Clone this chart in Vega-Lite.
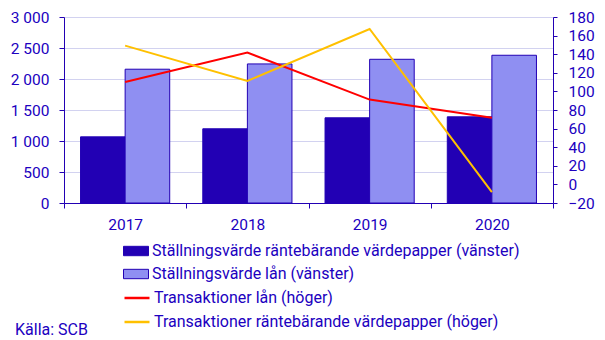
{
  "$schema": "https://vega.github.io/schema/vega-lite/v6.json",
  "autosize": {"type": "none"},
  "width": 489,
  "height": 186,
  "padding": {"left": 64, "top": 17, "right": 52, "bottom": 137},
  "background": "white",
  "config": {
    "font": "Roboto",
    "view": {"stroke": null},
    "axis": {
      "labelFont": "Roboto",
      "labelFontSize": 15.5,
      "labelColor": "#2000c0",
      "domainColor": "#2200b4",
      "tickColor": "#2200b4",
      "domainWidth": 1,
      "tickWidth": 1,
      "title": null
    },
    "legend": {"labelFont": "Roboto", "labelFontSize": 16, "labelColor": "#2000c0", "labelLimit": 600, "padding": 0}
  },
  "title": {
    "text": "Källa: SCB",
    "orient": "bottom",
    "anchor": "start",
    "frame": "group",
    "font": "Roboto",
    "fontSize": 16,
    "fontWeight": "normal",
    "color": "#2000c0",
    "dx": -49,
    "offset": -8
  },
  "layer": [
    {
      "data": {
        "values": [
          {"year": "2017", "series": "Ställningsvärde räntebärande värdepapper (vänster)", "value": 1067},
          {"year": "2017", "series": "Ställningsvärde lån (vänster)", "value": 2158},
          {"year": "2018", "series": "Ställningsvärde räntebärande värdepapper (vänster)", "value": 1197},
          {"year": "2018", "series": "Ställningsvärde lån (vänster)", "value": 2243},
          {"year": "2019", "series": "Ställningsvärde räntebärande värdepapper (vänster)", "value": 1374},
          {"year": "2019", "series": "Ställningsvärde lån (vänster)", "value": 2318},
          {"year": "2020", "series": "Ställningsvärde räntebärande värdepapper (vänster)", "value": 1390},
          {"year": "2020", "series": "Ställningsvärde lån (vänster)", "value": 2383}
        ]
      },
      "mark": {"type": "bar", "stroke": "#2200b4", "strokeWidth": 1},
      "encoding": {
        "x": {
          "field": "year",
          "type": "nominal",
          "scale": {"paddingInner": 0, "paddingOuter": 0},
          "axis": {"labelAngle": 0, "tickBand": "extent", "tickSize": 5, "labelPadding": 9, "domain": true, "grid": false}
        },
        "xOffset": {
          "field": "series",
          "type": "nominal",
          "sort": ["Ställningsvärde räntebärande värdepapper (vänster)", "Ställningsvärde lån (vänster)"],
          "scale": {"paddingInner": 0, "paddingOuter": 0.371}
        },
        "y": {
          "field": "value",
          "type": "quantitative",
          "scale": {"domain": [0, 3000], "nice": false},
          "axis": {
            "orient": "left",
            "values": [0, 500, 1000, 1500, 2000, 2500, 3000],
            "labelExpr": "replace(format(datum.value, ','), ',', ' ')",
            "grid": true,
            "gridColor": "#d2d2f0",
            "tickSize": 5,
            "labelPadding": 10
          }
        },
        "fill": {
          "field": "series",
          "type": "nominal",
          "sort": ["Ställningsvärde räntebärande värdepapper (vänster)", "Ställningsvärde lån (vänster)"],
          "scale": {
            "domain": ["Ställningsvärde räntebärande värdepapper (vänster)", "Ställningsvärde lån (vänster)"],
            "range": ["#2200b4", "#8f8ff2"]
          },
          "legend": {
            "orient": "none",
            "legendX": 59,
            "legendY": 221,
            "title": null,
            "direction": "vertical",
            "symbolType": "M-1,-0.375L1,-0.375L1,0.375L-1,0.375Z",
            "symbolSize": 625,
            "symbolStrokeColor": "#2200b4",
            "symbolStrokeWidth": 1,
            "symbolOpacity": 1,
            "labelOffset": 3,
            "rowPadding": 2
          }
        }
      }
    },
    {
      "data": {
        "values": [
          {"year": "2017", "series": "Transaktioner lån (höger)", "value": 110.2},
          {"year": "2018", "series": "Transaktioner lån (höger)", "value": 141.7},
          {"year": "2019", "series": "Transaktioner lån (höger)", "value": 91.2},
          {"year": "2020", "series": "Transaktioner lån (höger)", "value": 71.6},
          {"year": "2017", "series": "Transaktioner räntebärande värdepapper (höger)", "value": 149.2},
          {"year": "2018", "series": "Transaktioner räntebärande värdepapper (höger)", "value": 111.3},
          {"year": "2019", "series": "Transaktioner räntebärande värdepapper (höger)", "value": 167.1},
          {"year": "2020", "series": "Transaktioner räntebärande värdepapper (höger)", "value": -8.2}
        ]
      },
      "mark": {"type": "line", "strokeWidth": 2},
      "encoding": {
        "x": {"field": "year", "type": "nominal"},
        "y": {
          "field": "value",
          "type": "quantitative",
          "scale": {"domain": [-20, 180], "nice": false},
          "axis": {
            "orient": "right",
            "values": [-20, 0, 20, 40, 60, 80, 100, 120, 140, 160, 180],
            "grid": false,
            "tickSize": 4,
            "labelPadding": 11
          }
        },
        "stroke": {
          "field": "series",
          "type": "nominal",
          "sort": ["Transaktioner lån (höger)", "Transaktioner räntebärande värdepapper (höger)"],
          "scale": {
            "domain": ["Transaktioner lån (höger)", "Transaktioner räntebärande värdepapper (höger)"],
            "range": ["#ff0000", "#ffc000"]
          },
          "legend": {
            "orient": "none",
            "legendX": 59,
            "legendY": 267,
            "title": null,
            "direction": "vertical",
            "symbolType": "stroke",
            "symbolSize": 625,
            "symbolStrokeWidth": 2.5,
            "labelOffset": 3,
            "rowPadding": 2
          }
        }
      }
    }
  ],
  "resolve": {"scale": {"y": "independent", "fill": "independent", "stroke": "independent"}}
}
